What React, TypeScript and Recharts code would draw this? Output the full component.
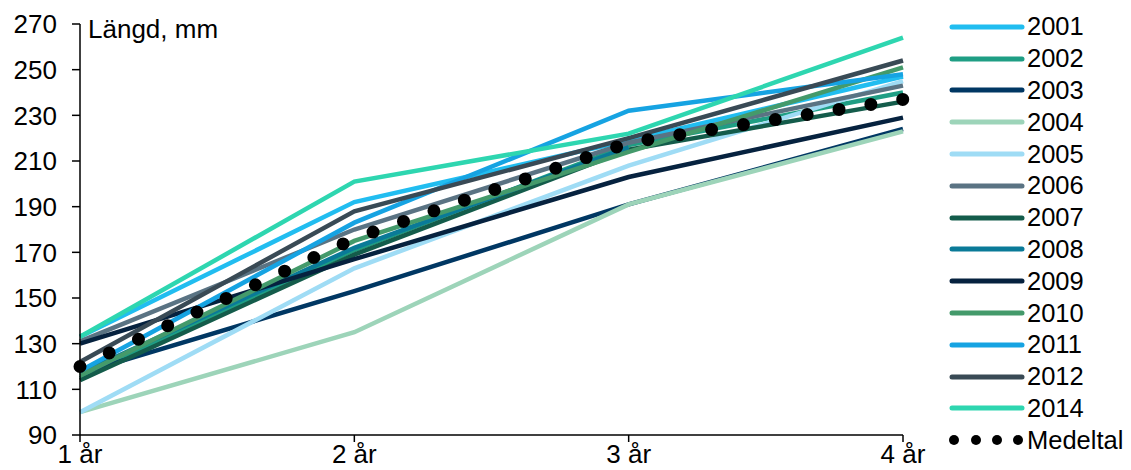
import React from "react";
import { LineChart, Line, XAxis, YAxis } from "recharts";

const categories = ["1 år", "2 år", "3 år", "4 år"];
const yTicks = [90, 110, 130, 150, 170, 190, 210, 230, 250, 270];

// Length (mm) per age, one array per year class
const v2001 = [133, 192, 219, 247];
const v2002 = [115, 171, 217, 240];
const v2003 = [117, 153, 191, 224];
const v2004 = [100, 135, 191, 223];
const v2005 = [100, 163, 208, 245];
const v2006 = [131, 180, 218, 243];
const v2007 = [114, 169, 215, 236];
const v2008 = [117, 172, 216, null];
const v2009 = [130, 167, 203, 229];
const v2010 = [116, 175, 214, 251];
const v2011 = [118, 183, 232, 248];
const v2012 = [122, 188, 220, 254];
const v2014 = [133, 201, 222, 264];
const medeltal = [120, 176, 218, 237];

const series = [
  { name: "2001", values: v2001, color: "#21bdf0" },
  { name: "2002", values: v2002, color: "#1f9e84" },
  { name: "2003", values: v2003, color: "#003763" },
  { name: "2004", values: v2004, color: "#9dd4b9" },
  { name: "2005", values: v2005, color: "#9fdcf5" },
  { name: "2006", values: v2006, color: "#5a7383" },
  { name: "2007", values: v2007, color: "#145c4b" },
  { name: "2008", values: v2008, color: "#0a7a98" },
  { name: "2009", values: v2009, color: "#06223f" },
  { name: "2010", values: v2010, color: "#449a6b" },
  { name: "2011", values: v2011, color: "#16a3e2" },
  { name: "2012", values: v2012, color: "#394a55" },
  { name: "2014", values: v2014, color: "#2ed6b0" },
];

const data = categories.map((cat, i) => {
  const row: Record<string, string | number | null> = { cat, Medeltal: medeltal[i] };
  series.forEach((s) => {
    row[s.name] = s.values[i];
  });
  return row;
});

const FONT = "'Liberation Sans', Arial, sans-serif";

function ChartLegend() {
  return (
    <div
      style={{
        position: "absolute",
        left: 946,
        top: 11,
        fontFamily: FONT,
        fontSize: 25.5,
        color: "#000",
      }}
    >
      {series.map((s) => (
        <div key={s.name} style={{ display: "flex", alignItems: "center", height: 31.8 }}>
          <svg width={80} height={10} style={{ marginRight: 1 }}>
            <line x1={6} y1={5} x2={76} y2={5} stroke={s.color} strokeWidth={5} strokeLinecap="round" />
          </svg>
          <span>{s.name}</span>
        </div>
      ))}
      <div style={{ display: "flex", alignItems: "center", height: 31.8 }}>
        <svg width={80} height={12} style={{ marginRight: 1 }}>
          {[8, 30, 51, 72].map((cx) => (
            <circle key={cx} cx={cx} cy={6} r={5} fill="#000" />
          ))}
        </svg>
        <span>Medeltal</span>
      </div>
    </div>
  );
}

export default function App() {
  return (
    <div style={{ position: "absolute", left: 0, top: 0, width: 1131, height: 470, background: "#fff" }}>
      <LineChart width={1131} height={470} data={data} margin={{ top: 24, right: 228, bottom: 0, left: 0 }}>
        <XAxis
          dataKey="cat"
          stroke="#000"
          strokeWidth={1.5}
          tickSize={7}
          tickMargin={3}
          height={35}
          interval={0}
          tick={{ fill: "#000", fontSize: 26, fontFamily: FONT }}
        />
        <YAxis
          domain={[90, 270]}
          ticks={yTicks}
          interval={0}
          width={80}
          stroke="#000"
          strokeWidth={1.5}
          tickSize={8}
          tickMargin={15}
          tick={{ fill: "#000", fontSize: 26, fontFamily: FONT }}
        />
        {series.map((s) => (
          <Line
            key={s.name}
            type="linear"
            dataKey={s.name}
            stroke={s.color}
            strokeWidth={4.5}
            dot={false}
            activeDot={false}
            isAnimationActive={false}
          />
        ))}
        <Line
          type="linear"
          dataKey="Medeltal"
          stroke="#000"
          strokeWidth={13}
          strokeDasharray="0 32.25"
          strokeLinecap="round"
          dot={false}
          activeDot={false}
          isAnimationActive={false}
        />
      </LineChart>
      <div
        style={{
          position: "absolute",
          left: 88,
          top: 14,
          fontFamily: FONT,
          fontSize: 26,
          color: "#000",
        }}
      >
        Längd, mm
      </div>
      <ChartLegend />
    </div>
  );
}
